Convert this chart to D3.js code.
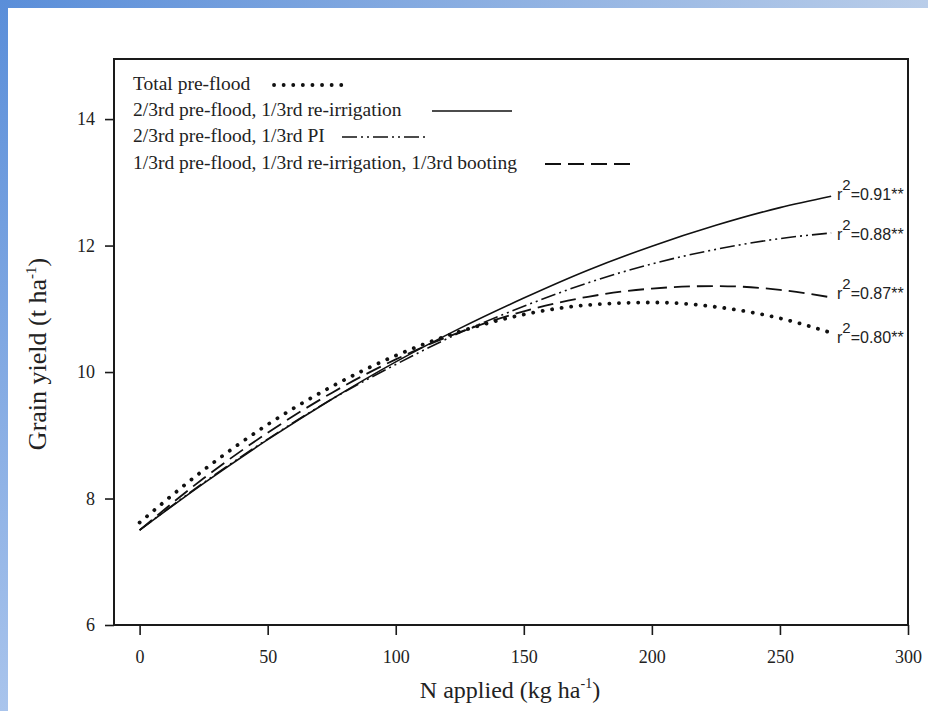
<!DOCTYPE html>
<html>
<head>
<meta charset="utf-8">
<script src="https://cdn.jsdelivr.net/npm/d3@7"></script>
<style>
  body { margin: 0; background: #fff; }
  svg { display: block; }
</style>
</head>
<body>
<div id="container"></div>
<script>
/* DATA */
const nApplied = [0, 25, 50, 75, 100, 125, 150, 175, 200, 225, 250, 270];
const totalPreFlood = [7.62, 8.45, 9.17, 9.77, 10.26, 10.64, 10.91, 11.06, 11.10, 11.03, 10.85, 10.62];
const reIrrigation = [7.50, 8.24, 8.93, 9.57, 10.16, 10.69, 11.17, 11.61, 11.99, 12.32, 12.60, 12.78];
const preFloodPI = [7.50, 8.25, 8.94, 9.57, 10.12, 10.62, 11.04, 11.41, 11.71, 11.94, 12.11, 12.20];
const booting = [7.50, 8.32, 9.04, 9.67, 10.20, 10.63, 10.96, 11.19, 11.32, 11.36, 11.30, 11.18];
const seriesNames = [
  "Total pre-flood",
  "2/3rd pre-flood, 1/3rd re-irrigation",
  "2/3rd pre-flood, 1/3rd PI",
  "1/3rd pre-flood, 1/3rd re-irrigation, 1/3rd booting"
];
const r2Labels = ["0.80", "0.91", "0.88", "0.87"];
const xTicks = [0, 50, 100, 150, 200, 250, 300];
const yTicks = [6, 8, 10, 12, 14];

/* CONSTANTS */
const width = 928, height = 711;
const serif = '"Liberation Serif", "Times New Roman", serif';
const sans = '"Liberation Sans", Arial, sans-serif';

// line styles per series
const styles = [
  { dash: "0.1 9.5", w: 3.8, cap: "round" },
  { dash: null, w: 1.6, cap: "butt" },
  { dash: "15 4 2 4 2 4", w: 1.6, cap: "butt" },
  { dash: "16 7", w: 1.8, cap: "butt" }
];

const series = [totalPreFlood, reIrrigation, preFloodPI, booting].map((vals, i) => ({
  name: seriesNames[i],
  r2: r2Labels[i],
  style: styles[i],
  values: nApplied.map((n, j) => ({ n, y: vals[j] }))
}));

/* SCALES */
const xScale = d3.scaleLinear().domain([-10, 300]).range([114, 908]);
const yScale = d3.scaleLinear().domain([6, 14.95]).range([625, 59]);

const svg = d3.select("#container")
  .append("svg")
  .attr("width", width)
  .attr("height", height);

// blue frame
const defs = svg.append("defs");
const gTop = defs.append("linearGradient").attr("id", "gTop");
gTop.append("stop").attr("offset", 0).attr("stop-color", "#5a8ed9");
gTop.append("stop").attr("offset", 1).attr("stop-color", "#b9cde9");
const gLeft = defs.append("linearGradient").attr("id", "gLeft")
  .attr("x1", 0).attr("y1", 0).attr("x2", 0).attr("y2", 1);
gLeft.append("stop").attr("offset", 0).attr("stop-color", "#5a8ed9");
gLeft.append("stop").attr("offset", 1).attr("stop-color", "#a9c4ec");
svg.append("rect").attr("x", 0).attr("y", 0).attr("width", width).attr("height", 8).attr("fill", "url(#gTop)");
svg.append("rect").attr("x", 0).attr("y", 0).attr("width", 8).attr("height", height).attr("fill", "url(#gLeft)");

// plot frame
svg.append("rect")
  .attr("x", xScale(-10))
  .attr("y", yScale(14.95))
  .attr("width", xScale(300) - xScale(-10))
  .attr("height", yScale(6) - yScale(14.95))
  .attr("fill", "none")
  .attr("stroke", "#1a1a1a")
  .attr("stroke-width", 2);

// axes
const xAxis = svg.append("g")
  .attr("transform", `translate(0, ${yScale(6)})`)
  .call(d3.axisBottom(xScale).tickValues(xTicks).tickSize(10).tickPadding(15));
const yAxis = svg.append("g")
  .attr("transform", `translate(${xScale(-10)}, 0)`)
  .call(d3.axisLeft(yScale).tickValues(yTicks).tickSize(9).tickPadding(10));
[xAxis, yAxis].forEach(a => {
  a.select(".domain").remove();
  a.selectAll(".tick line").attr("stroke", "#1a1a1a").attr("stroke-width", 1.6);
  a.selectAll(".tick text")
    .style("font-family", serif)
    .style("font-size", "18px")
    .attr("fill", "#222");
});

// axis titles
const xTitle = svg.append("text")
  .attr("x", 510).attr("y", 698)
  .attr("text-anchor", "middle")
  .style("font-family", serif).style("font-size", "24px").attr("fill", "#222");
xTitle.append("tspan").text("N applied (kg ha");
xTitle.append("tspan").attr("dy", -10).style("font-size", "14px").text("-1");
xTitle.append("tspan").attr("dy", 10).text(")");

const yTitle = svg.append("text")
  .attr("transform", "translate(46, 354) rotate(-90)")
  .attr("text-anchor", "middle")
  .style("font-family", serif).style("font-size", "26px").attr("fill", "#222");
yTitle.append("tspan").text("Grain yield (t ha");
yTitle.append("tspan").attr("dy", -10).style("font-size", "15px").text("-1");
yTitle.append("tspan").attr("dy", 10).text(")");

// curves
const line = d3.line()
  .x(d => xScale(d.n))
  .y(d => yScale(d.y))
  .curve(d3.curveMonotoneX);

svg.selectAll("path.curve")
  .data(series)
  .join("path")
  .attr("class", "curve")
  .attr("d", d => line(d.values))
  .attr("fill", "none")
  .attr("stroke", "#111")
  .attr("stroke-width", d => d.style.w)
  .attr("stroke-linecap", d => d.style.cap)
  .attr("stroke-dasharray", d => d.style.dash);

// r2 labels at line ends
const labelY = [343, 200, 240, 299];
series.forEach((s, i) => {
  const t = svg.append("text")
    .attr("x", 837).attr("y", labelY[i])
    .style("font-family", sans).style("font-size", "16px").attr("fill", "#222");
  t.append("tspan").text("r");
  t.append("tspan").attr("dy", -10).style("font-size", "15px").text("2");
  t.append("tspan").attr("dy", 10).text("=" + s.r2 + "**");
});

// legend
const legendRows = [
  { y: 90, x1: 274, x2: 348 },
  { y: 116, x1: 432, x2: 512 },
  { y: 142, x1: 342, x2: 428 },
  { y: 169, x1: 545, x2: 634 }
];
const legend = svg.append("g");
series.forEach((s, i) => {
  const r = legendRows[i];
  legend.append("text")
    .attr("x", 133).attr("y", r.y)
    .style("font-family", serif).style("font-size", "19.5px").attr("fill", "#222")
    .text(s.name);
  legend.append("line")
    .attr("x1", r.x1).attr("x2", r.x2)
    .attr("y1", r.y - 5).attr("y2", r.y - 5)
    .attr("stroke", "#111")
    .attr("stroke-width", s.style.w)
    .attr("stroke-linecap", s.style.cap)
    .attr("stroke-dasharray", s.style.dash);
});
</script>
</body>
</html>
